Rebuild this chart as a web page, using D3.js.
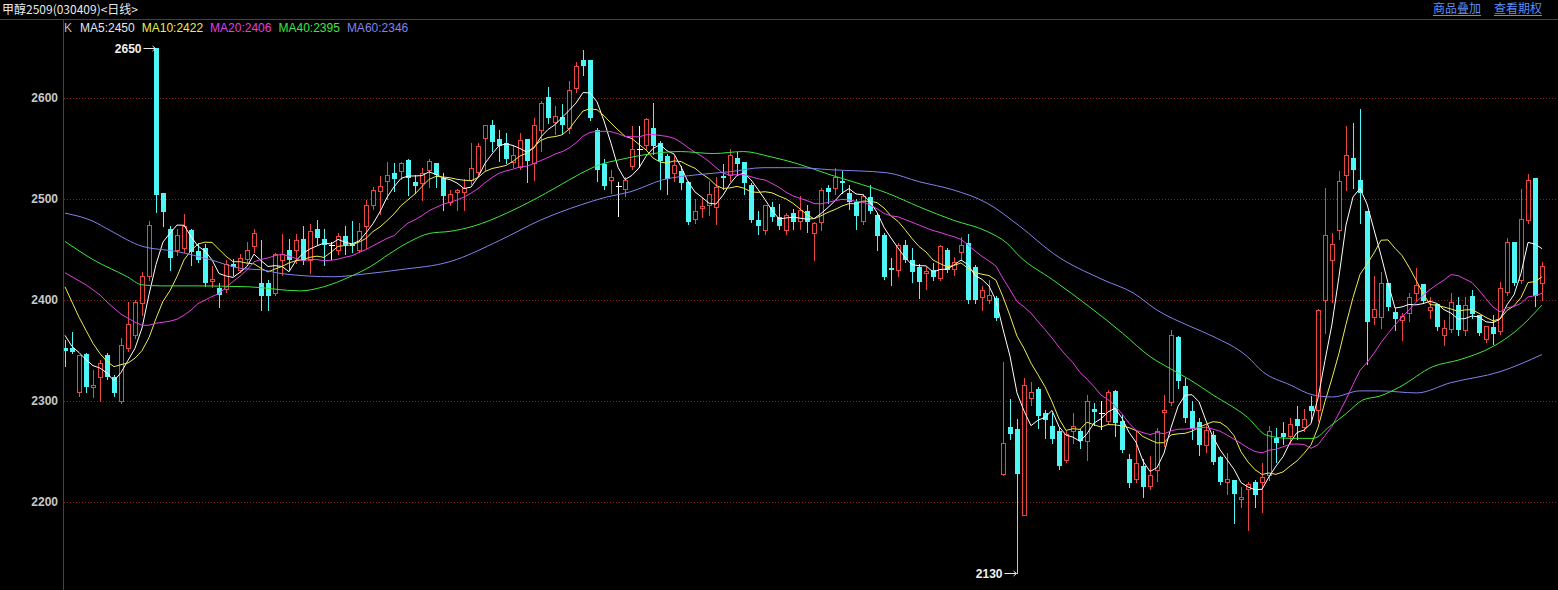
<!DOCTYPE html>
<html><head><meta charset="utf-8">
<script src="https://cdn.jsdelivr.net/npm/d3@7"></script>
<style>html,body{margin:0;padding:0;background:#000;overflow:hidden}</style>
</head><body><svg id="c" width="1558" height="590"></svg>
<script>
const title = "甲醇2509(030409)<日线>";
const links = ["商品叠加", "查看期权"];
const yTicks = [2200, 2300, 2400, 2500, 2600];
const maNames = ["MA5", "MA10", "MA20", "MA40", "MA60"];
const maLegendValues = [2450, 2422, 2406, 2395, 2346];

const opens = [2352,2352,2309,2347,2314,2324,2346,2324,2300,2352,
2365,2397,2424,2650,2506,2470,2450,2451,2469,2449,
2451,2419,2412,2411,2436,2430,2441,2453,2417,2417,
2407,2440,2450,2450,2460,2440,2470,2460,2454,2450,
2463,2455,2450,2473,2494,2508,2518,2526,2528,2539,
2517,2516,2529,2536,2521,2497,2507,2507,2519,2527,
2560,2573,2559,2555,2537,2532,2559,2536,2568,2601,
2576,2581,2570,2610,2638,2638,2568,2535,2519,2513,
2510,2533,2550,2553,2570,2555,2543,2526,2528,2517,
2480,2491,2494,2492,2523,2524,2541,2537,2514,2479,
2469,2492,2482,2469,2486,2478,2488,2466,2477,2511,
2511,2518,2506,2497,2478,2502,2484,2464,2432,2430,
2454,2440,2433,2427,2430,2422,2450,2431,2448,2456,
2433,2403,2400,2402,2228,2274,2272,2187,2303,2312,
2288,2275,2270,2242,2270,2270,2260,2292,2288,2280,
2310,2280,2243,2223,2236,2216,2232,2289,2299,2363,
2315,2290,2279,2256,2266,2245,2220,2222,2203,2213,
2220,2220,2227,2263,2268,2265,2282,2274,2295,2291,
2400,2440,2469,2524,2541,2519,2488,2383,2383,2417,
2388,2380,2387,2407,2416,2390,2396,2365,2371,2395,
2370,2404,2385,2361,2373,2369,2408,2457,2420,2479,
2521,2417];

const highs = [2360,2368,2346,2348,2331,2341,2348,2326,2362,2398,
2400,2428,2478,2650,2506,2473,2470,2485,2470,2456,
2455,2434,2417,2440,2441,2446,2457,2470,2459,2420,
2447,2465,2460,2465,2473,2475,2479,2470,2457,2466,
2473,2478,2476,2499,2512,2523,2537,2536,2537,2540,
2524,2531,2540,2536,2526,2509,2510,2520,2555,2555,
2573,2578,2568,2565,2553,2565,2559,2580,2597,2611,
2592,2594,2617,2636,2648,2638,2570,2540,2529,2517,
2522,2572,2572,2580,2595,2557,2545,2543,2533,2518,
2500,2501,2518,2522,2535,2550,2547,2537,2516,2488,
2494,2497,2495,2486,2490,2503,2494,2477,2511,2514,
2531,2528,2514,2500,2505,2514,2486,2466,2442,2456,
2459,2451,2436,2433,2437,2454,2451,2443,2462,2465,
2435,2414,2420,2404,2339,2302,2282,2323,2319,2314,
2291,2288,2274,2270,2288,2272,2306,2298,2300,2311,
2311,2286,2248,2271,2243,2246,2273,2306,2370,2364,
2323,2300,2283,2276,2270,2246,2249,2222,2215,2220,
2222,2239,2275,2273,2279,2283,2295,2292,2305,2391,
2511,2466,2528,2572,2575,2589,2488,2424,2428,2417,
2392,2387,2407,2432,2416,2403,2396,2380,2407,2403,
2403,2410,2385,2374,2385,2418,2461,2457,2510,2525,
2521,2438];

const lows = [2335,2348,2305,2309,2304,2300,2322,2305,2298,2350,
2362,2385,2420,2487,2473,2430,2445,2448,2435,2438,
2414,2413,2393,2408,2425,2428,2438,2448,2390,2390,
2405,2425,2430,2437,2436,2427,2455,2435,2441,2446,
2446,2448,2448,2451,2490,2485,2500,2508,2520,2504,
2506,2499,2512,2512,2489,2494,2489,2489,2515,2525,
2529,2548,2538,2536,2532,2530,2517,2519,2548,2575,
2564,2564,2565,2606,2623,2578,2518,2510,2506,2483,
2503,2530,2532,2550,2545,2510,2505,2518,2510,2475,
2476,2482,2484,2475,2510,2518,2525,2505,2477,2465,
2465,2478,2470,2465,2470,2470,2467,2440,2469,2496,
2505,2506,2490,2470,2475,2486,2450,2421,2415,2424,
2438,2418,2402,2411,2420,2420,2428,2425,2440,2397,
2397,2390,2397,2380,2227,2262,2130,2187,2296,2273,
2263,2258,2233,2240,2258,2253,2242,2276,2272,2278,
2265,2250,2215,2220,2205,2213,2221,2255,2296,2313,
2279,2262,2247,2250,2238,2218,2208,2179,2195,2172,
2195,2190,2222,2240,2257,2258,2262,2270,2280,2280,
2367,2398,2460,2509,2511,2476,2337,2376,2372,2390,
2370,2360,2379,2400,2397,2382,2370,2355,2368,2365,
2365,2382,2365,2358,2356,2366,2405,2415,2417,2476,
2394,2400];

const closes = [2350,2349,2346,2314,2316,2338,2324,2308,2355,2376,
2398,2424,2474,2504,2487,2442,2464,2473,2448,2440,
2417,2421,2405,2436,2433,2442,2450,2466,2404,2404,
2446,2446,2440,2459,2440,2468,2461,2454,2454,2463,
2454,2453,2468,2494,2509,2513,2524,2520,2536,2521,
2513,2526,2538,2524,2503,2505,2509,2511,2531,2552,
2573,2556,2552,2540,2544,2558,2538,2573,2595,2580,
2582,2573,2608,2632,2632,2580,2529,2513,2522,2513,
2519,2550,2550,2579,2552,2538,2520,2534,2516,2477,
2488,2493,2505,2512,2521,2544,2535,2516,2479,2473,
2494,2482,2473,2484,2477,2489,2477,2476,2509,2507,
2522,2516,2497,2483,2503,2488,2463,2423,2430,2454,
2440,2428,2418,2429,2423,2453,2430,2438,2454,2400,
2400,2410,2405,2382,2258,2267,2228,2316,2309,2285,
2281,2262,2236,2267,2275,2260,2300,2289,2288,2309,
2278,2251,2219,2239,2215,2227,2270,2291,2365,2320,
2283,2272,2256,2271,2240,2220,2223,2208,2205,2218,
2207,2225,2270,2258,2264,2277,2275,2282,2290,2390,
2464,2455,2518,2544,2529,2506,2378,2391,2417,2393,
2381,2384,2403,2415,2399,2393,2373,2372,2398,2370,
2395,2386,2367,2374,2366,2412,2457,2417,2480,2519,
2404,2434];

// moving-average values at the left edge (their history lies before the visible window)
const ma5Lead = [2365,2354,2348,2341];
const ma10Lead = [2413,2398,2383,2370,2357,2347,2339,2334,2336];
const ma20Lead = [2427,2423,2419,2415,2410,2405,2398,2392,2386,2382,2378,2375,2375,2377,2378,2379,2381,2385,2390];
// MA40 / MA60 as [candle index, value]
const ma40Points = [[0,2458],[4,2440],[8.9,2423],[11,2415],[13.6,2414],[18.3,2414],[26.4,2413],[33.6,2409],[36.9,2413],[40.7,2423],[43.6,2433],[46.4,2446],[49.3,2458],[52.1,2466],[55,2468],[58.3,2473],[63.1,2486],[66.9,2499],[70.3,2512],[73.6,2525],[76.4,2534],[79.3,2539],[82.1,2543],[87.9,2547],[92.6,2545],[96.9,2547],[100.7,2542],[104.6,2535],[109.3,2524],[112.6,2517],[117.4,2506],[122.1,2492],[126.9,2479],[131.7,2468],[134.6,2456],[136.4,2443],[141.1,2420],[146.4,2393],[151.1,2367],[155,2344],[157.9,2332],[160.7,2321],[164,2306],[168.9,2284],[171.7,2266],[175,2263],[178.3,2263],[180.7,2275],[183.1,2288],[185.4,2301],[187.9,2305],[190.7,2314],[195.4,2334],[199.3,2341],[204,2354],[207.4,2370],[211,2395]];
const ma60Points = [[0,2486],[4,2478],[6.4,2469],[11.1,2453],[16,2448],[20.7,2440],[25.4,2431],[27.9,2430],[31.1,2426],[38.3,2423],[43.1,2426],[47.9,2430],[55,2438],[62.1,2459],[67.9,2479],[73.6,2494],[77.4,2502],[80.7,2507],[85.4,2519],[90.3,2524],[95,2527],[99.7,2531],[104.6,2531],[109.3,2529],[117.4,2526],[122.1,2517],[126.9,2509],[131.7,2496],[136.4,2473],[141.4,2445],[148.3,2420],[152.6,2407],[156,2390],[160.7,2374],[164,2364],[168.9,2344],[171.1,2329],[175,2316],[178.3,2306],[181.1,2304],[185,2310],[187.9,2310],[193.1,2308],[197.9,2318],[205,2329],[211,2346]];

(function () {
const RED = "#e8463e", CYAN = "#4ef6f6", AXIS = "#a01c1c", GRID = "#8a1d1d";
const maColors = ["#ffffff", "#ecec50", "#e040e0", "#3ee63e", "#8282ee"];
const legendColors = ["#e6e6e6", "#ecec50", "#e040e0", "#3ee63e", "#8282ee"];

const svg = d3.select("#c");
const W = 1558, H = 590, leftX = 63, topY = 19;
svg.append("rect").attr("width", W).attr("height", H).attr("fill", "#000");

const x = d3.scaleLinear().domain([0, closes.length - 1]).range([65, 1542]);
const y = d3.scaleLinear().domain([2200, 2600]).range([502, 98]);

// grid
svg.append("g").selectAll("line").data(yTicks).join("line")
  .attr("x1", leftX + 1).attr("x2", W)
  .attr("y1", d => Math.round(y(d)) + 0.5).attr("y2", d => Math.round(y(d)) + 0.5)
  .attr("stroke", GRID).attr("stroke-dasharray", "1,2");
svg.append("g").selectAll("text").data(yTicks).join("text")
  .attr("x", 58).attr("y", d => Math.round(y(d)) + 4)
  .attr("text-anchor", "end").attr("fill", "#c8c8c8")
  .attr("font-family", "Liberation Sans, Arial, sans-serif").attr("font-size", 12).attr("font-weight", "bold")
  .text(d => d);

// frame
svg.append("line").attr("x1", 0).attr("x2", W).attr("y1", topY + 0.5).attr("y2", topY + 0.5).attr("stroke", AXIS);
svg.append("line").attr("x1", leftX + 0.5).attr("x2", leftX + 0.5).attr("y1", topY).attr("y2", H).attr("stroke", AXIS);

// title and links
svg.append("text").attr("x", 2).attr("y", 14).attr("fill", "#e8e8e8")
  .attr("font-family", "Noto Sans CJK SC, sans-serif").attr("font-size", 12).text(title);
const linkX = [1433, 1494];
links.forEach((t, i) => {
  const tx = svg.append("text").attr("x", linkX[i]).attr("y", 13).attr("fill", "#5a8ef6")
    .attr("font-family", "Noto Sans CJK SC, sans-serif").attr("font-size", 12).text(t);
  const w = tx.node().getComputedTextLength();
  svg.append("line").attr("x1", linkX[i]).attr("x2", linkX[i] + w).attr("y1", 15.5).attr("y2", 15.5).attr("stroke", "#5a8ef6");
});

// legend
const lg = svg.append("g").attr("font-family", "Liberation Sans, Arial, sans-serif").attr("font-size", 12);
lg.append("text").attr("x", 64).attr("y", 32).attr("fill", "#bdbdbd").text("K");
let lx = 80;
maNames.forEach((n, i) => {
  const t = lg.append("text").attr("x", lx).attr("y", 32).attr("fill", legendColors[i]).text(n + ":" + maLegendValues[i]);
  lx += t.node().getComputedTextLength() + 7;
});

// plot clip
svg.append("defs").append("clipPath").attr("id", "plot").append("rect")
  .attr("x", leftX + 1).attr("y", topY + 1).attr("width", W - leftX).attr("height", H - topY);
const plot = svg.append("g").attr("clip-path", "url(#plot)");

// candles
const cg = plot.append("g").attr("shape-rendering", "crispEdges");
closes.forEach((c, i) => {
  const o = opens[i], h = highs[i], l = lows[i];
  const cx = Math.round(x(i)) + 0.5;
  const yo = Math.round(y(o)), yc = Math.round(y(c)), yh = Math.round(y(h)), yl = Math.round(y(l));
  if (c === o) {
    cg.append("line").attr("x1", cx).attr("x2", cx).attr("y1", yh).attr("y2", yl + 1).attr("stroke", "#fff");
    cg.append("line").attr("x1", cx - 3).attr("x2", cx + 3).attr("y1", yo + 0.5).attr("y2", yo + 0.5).attr("stroke", "#fff");
  } else if (c > o) {
    if (yo - yc < 2) {
      cg.append("line").attr("x1", cx).attr("x2", cx).attr("y1", yh).attr("y2", yl + 1).attr("stroke", RED);
      cg.append("rect").attr("x", cx - 2.5).attr("y", yc).attr("width", 5).attr("height", Math.max(1, yo - yc)).attr("fill", RED);
    } else {
      cg.append("line").attr("x1", cx).attr("x2", cx).attr("y1", yh).attr("y2", yc).attr("stroke", RED);
      cg.append("line").attr("x1", cx).attr("x2", cx).attr("y1", yo).attr("y2", yl + 1).attr("stroke", RED);
      cg.append("rect").attr("x", cx - 2).attr("y", yc + 0.5).attr("width", 4).attr("height", yo - yc)
        .attr("fill", "#000").attr("stroke", RED);
    }
  } else {
    cg.append("line").attr("x1", cx).attr("x2", cx).attr("y1", yh).attr("y2", yl + 1).attr("stroke", CYAN);
    cg.append("rect").attr("x", cx - 2.5).attr("y", yo).attr("width", 5).attr("height", Math.max(1, yc - yo)).attr("fill", CYAN);
  }
});

// moving averages
function movingAverage(n, lead) {
  return closes.map((c, i) => i < n - 1 ? lead[i] : d3.mean(closes.slice(i - n + 1, i + 1)));
}
const maSeries = [movingAverage(5, ma5Lead), movingAverage(10, ma10Lead), movingAverage(20, ma20Lead)];
const lineIdx = d3.line().x((d, i) => x(i)).y(d => y(d));
maSeries.forEach((s, k) => {
  plot.append("path").attr("d", lineIdx(s)).attr("fill", "none").attr("stroke", maColors[k]).attr("stroke-width", 1);
});
const linePts = d3.line().x(d => x(d[0])).y(d => y(d[1])).curve(d3.curveMonotoneX);
[ma40Points, ma60Points].forEach((pts, k) => {
  plot.append("path").attr("d", linePts(pts)).attr("fill", "none").attr("stroke", maColors[3 + k]).attr("stroke-width", 1);
});

// extreme annotations
function annotate(idx, val) {
  const ex = Math.round(x(idx)) - 0.5, ey = Math.round(y(val)) + 0.5;
  const g = svg.append("g");
  g.append("line").attr("x1", ex - 12).attr("x2", ex).attr("y1", ey).attr("y2", ey).attr("stroke", "#e8e8e8");
  g.append("path").attr("d", `M${ex - 3},${ey - 2.5}L${ex},${ey}L${ex - 3},${ey + 2.5}`).attr("fill", "none").attr("stroke", "#e8e8e8");
  g.append("text").attr("x", ex - 14).attr("y", ey + 4).attr("text-anchor", "end").attr("fill", "#f0f0f0")
    .attr("font-family", "Liberation Sans, Arial, sans-serif").attr("font-size", 12).attr("font-weight", "bold").text(val);
}
const iMax = d3.maxIndex(highs), iMin = d3.minIndex(lows);
annotate(iMax, highs[iMax]);
annotate(iMin, lows[iMin]);
})();
</script>
</body></html>
